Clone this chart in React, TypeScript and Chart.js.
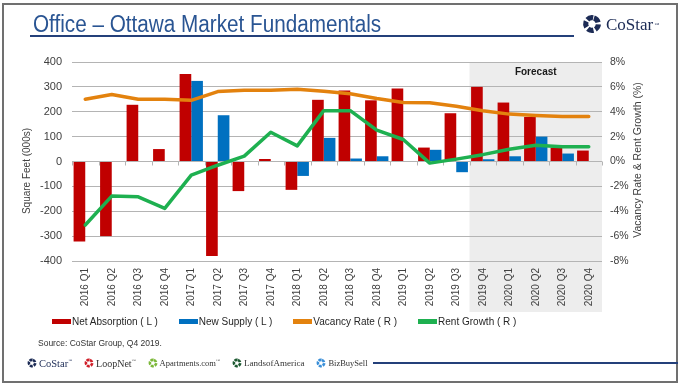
import React, { useEffect, useRef } from 'react';
import { Chart, registerables } from 'chart.js';

Chart.register(...registerables);

// ---------- data ----------
const categories = [
  '2016 Q1', '2016 Q2', '2016 Q3', '2016 Q4',
  '2017 Q1', '2017 Q2', '2017 Q3', '2017 Q4',
  '2018 Q1', '2018 Q2', '2018 Q3', '2018 Q4',
  '2019 Q1', '2019 Q2', '2019 Q3', '2019 Q4',
  '2020 Q1', '2020 Q2', '2020 Q3', '2020 Q4',
];
const netAbsorption = [-322, -300, 228, 50, 352, -380, -119, 10, -114, 248, 285, 246, 293, 56, 194, 300, 237, 179, 56, 44];
const newSupply = [null, null, null, null, 324, 186, null, null, -58, 95, 12, 21, null, 47, -43, 9, 21, 100, 32, null];
const vacancyRate = [5.0, 5.38, 5.0, 5.0, 4.92, 5.62, 5.73, 5.73, 5.8, 5.65, 5.45, 5.06, 4.74, 4.72, 4.44, 4.08, 3.81, 3.69, 3.61, 3.61];
const rentGrowth = [-5.11, -2.78, -2.84, -3.77, -1.1, -0.3, 0.43, 2.35, 1.26, 4.09, 4.09, 2.52, 1.77, -0.13, 0.19, 0.55, 0.98, 1.31, 1.18, 1.18];

const seriesNames = ['Net Absorption ( L )', 'New Supply ( L )', 'Vacancy Rate ( R )', 'Rent Growth ( R )'];
const seriesColors = ['#C00000', '#0070C0', '#E3820E', '#1EB050'];

const leftAxis = { min: -400, max: 400, step: 100 };
const rightAxis = { min: -8, max: 8, step: 2 };
const forecastStartIndex = 15;
const forecastLabel = 'Forecast';

const titleText = 'Office – Ottawa Market Fundamentals';
const leftAxisTitle = 'Square Feet (000s)';
const rightAxisTitle = 'Vacancy Rate & Rent Growth (%)';
const sourceText = 'Source: CoStar Group, Q4 2019.';
const footerBrands = [
  { name: 'CoStar', color: '#1C2B55', text: '#1C2B55', size: 10.5, tm: true },
  { name: 'LoopNet', color: '#D0202A', text: '#333333', size: 10, tm: true },
  { name: 'Apartments.com', color: '#7CB83A', text: '#333333', size: 8.5, tm: true },
  { name: 'LandsofAmerica', color: '#1E5A32', text: '#333333', size: 9, tm: false },
  { name: 'BizBuySell', color: '#3A8FD8', text: '#333333', size: 8.5, tm: false },
];

const SANS = '"Liberation Sans", Arial, sans-serif';
const SERIF = '"Liberation Serif", "Times New Roman", serif';
const GRID = '#B4B4B4';
const TICK = '#404040';

const Mark = ({ size, color }: { size: number; color: string }) => (
  <svg width={size} height={size} viewBox="0 0 20 20" style={{ display: 'block' }}>
    <circle cx="10" cy="10" r="6.3" fill="none" stroke={color} strokeWidth="5.2"
      strokeDasharray="6.0 1.92" transform="rotate(-72 10 10)" />
  </svg>
);

const forecastPlugin = {
  id: 'forecastShade',
  beforeDraw(chart: any) {
    const { ctx, chartArea, scales } = chart;
    const x = scales.x;
    const band = x.getPixelForValue(1) - x.getPixelForValue(0);
    const x0 = x.getPixelForValue(forecastStartIndex) - band / 2;
    ctx.save();
    ctx.fillStyle = '#EDEDED';
    ctx.fillRect(x0, chartArea.top, chartArea.right - x0, x.bottom - chartArea.top);
    ctx.fillStyle = '#1A1A1A';
    ctx.font = `bold 10px ${SANS}`;
    ctx.textAlign = 'center';
    ctx.textBaseline = 'middle';
    ctx.fillText(forecastLabel, (x0 + chartArea.right) / 2, chartArea.top + 10);
    ctx.restore();
  },
  beforeDatasetsDraw(chart: any) {
    const { ctx, scales } = chart;
    const x = scales.x;
    const y0 = scales.y.getPixelForValue(0);
    const band = x.getPixelForValue(1) - x.getPixelForValue(0);
    ctx.save();
    ctx.strokeStyle = GRID;
    ctx.lineWidth = 1;
    ctx.beginPath();
    for (let i = 0; i <= categories.length; i++) {
      const xb = Math.round(x.getPixelForValue(0) - band / 2 + i * band) + 0.5;
      ctx.moveTo(xb, y0);
      ctx.lineTo(xb, y0 + 4);
    }
    ctx.stroke();
    ctx.restore();
  },
};

function ChartCanvas() {
  const ref = useRef<HTMLCanvasElement | null>(null);
  useEffect(() => {
    if (!ref.current) return;
    const chart = new Chart(ref.current, {
      type: 'bar',
      data: {
        labels: categories,
        datasets: [
          {
            type: 'line', label: seriesNames[2], data: vacancyRate, yAxisID: 'y1',
            borderColor: seriesColors[2], backgroundColor: seriesColors[2], borderWidth: 3.5,
            pointRadius: 0, tension: 0, order: 0, borderCapStyle: 'round', borderJoinStyle: 'round',
          } as any,
          {
            type: 'line', label: seriesNames[3], data: rentGrowth, yAxisID: 'y1',
            borderColor: seriesColors[3], backgroundColor: seriesColors[3], borderWidth: 3.5,
            pointRadius: 0, tension: 0, order: 1, borderCapStyle: 'round', borderJoinStyle: 'round',
          } as any,
          {
            type: 'bar', label: seriesNames[0], data: netAbsorption, yAxisID: 'y',
            backgroundColor: seriesColors[0], order: 2,
            categoryPercentage: 0.88, barPercentage: 1.0,
          } as any,
          {
            type: 'bar', label: seriesNames[1], data: newSupply, yAxisID: 'y',
            backgroundColor: seriesColors[1], order: 3,
            categoryPercentage: 0.88, barPercentage: 1.0,
          } as any,
        ],
      },
      options: {
        responsive: false,
        animation: false,
        devicePixelRatio: 1,
        layout: { padding: { top: 62, bottom: 77, left: 0, right: 0 } },
        plugins: { legend: { display: false }, tooltip: { enabled: false } },
        scales: {
          x: {
            grid: { display: false, drawTicks: false },
            border: { display: false },
            ticks: {
              autoSkip: false, maxRotation: 90, minRotation: 90, padding: 7,
              color: TICK, font: { size: 10, family: SANS },
            },
            afterFit: (s: any) => { s.height = 51; },
          },
          y: {
            position: 'left', min: leftAxis.min, max: leftAxis.max,
            grid: { color: GRID, drawTicks: false, lineWidth: 1 },
            border: { display: false },
            ticks: { stepSize: leftAxis.step, padding: 10, color: TICK, font: { size: 11, family: SANS } },
            afterFit: (s: any) => { s.width = 72; },
          },
          y1: {
            position: 'right', min: rightAxis.min, max: rightAxis.max,
            grid: { display: false, drawTicks: false },
            border: { display: false },
            ticks: {
              stepSize: rightAxis.step, padding: 8, color: TICK, font: { size: 10.5, family: SANS },
              callback: (v: any) => `${v}%`,
            },
            afterFit: (s: any) => { s.width = 80; },
          },
        },
      } as any,
      plugins: [forecastPlugin],
    });
    return () => chart.destroy();
  }, []);
  return (
    <canvas ref={ref} width={682} height={389}
      style={{ position: 'absolute', left: 0, top: 0, width: 682, height: 389 }} />
  );
}

export default function App() {
  const abs = (s: React.CSSProperties): React.CSSProperties => ({ position: 'absolute', ...s });
  return (
    <div style={abs({ left: 0, top: 0, width: 682, height: 389, background: '#fff', overflow: 'hidden', fontFamily: SANS })}>
      <ChartCanvas />
      {/* frame */}
      <div style={abs({ left: 2, top: 3, width: 676, height: 380, border: '2px solid #707070', boxSizing: 'border-box' })} />
      {/* title */}
      <div style={abs({ left: 33, top: 13, fontSize: 23, lineHeight: '23px', color: '#2A5593', whiteSpace: 'nowrap', transform: 'scaleX(0.9)', transformOrigin: 'left top' })}>
        {titleText}
      </div>
      <div style={abs({ left: 30, top: 35, width: 544, height: 2, background: '#24407A' })} />
      {/* header logo */}
      <div style={abs({ left: 582, top: 14 })}><Mark size={20} color="#1C2B55" /></div>
      <div style={abs({ left: 606, top: 15, fontFamily: SERIF, fontSize: 17, lineHeight: '20px', color: '#1C2B55', whiteSpace: 'nowrap' })}>
        CoStar<span style={{ fontSize: 5, verticalAlign: 'top', marginLeft: 1 }}>™</span>
      </div>
      {/* axis titles */}
      <div style={abs({ left: 26, top: 171, fontSize: 10, color: TICK, whiteSpace: 'nowrap', transform: 'translate(-50%, -50%) rotate(-90deg)' })}>
        {leftAxisTitle}
      </div>
      <div style={abs({ left: 637, top: 160, fontSize: 10.5, color: TICK, whiteSpace: 'nowrap', transform: 'translate(-50%, -50%) rotate(-90deg)' })}>
        {rightAxisTitle}
      </div>
      {/* legend */}
      <div style={abs({ left: 52, top: 314, height: 14, display: 'flex', alignItems: 'center', gap: 21, fontSize: 10, color: '#262626', whiteSpace: 'nowrap' })}>
        {seriesNames.map((n, i) => (
          <div key={n} style={{ display: 'flex', alignItems: 'center' }}>
            <div style={{ width: 19, height: 5, background: seriesColors[i], marginRight: 1 }} />
            <span>{n}</span>
          </div>
        ))}
      </div>
      {/* source */}
      <div style={abs({ left: 38, top: 337, fontSize: 8.5, lineHeight: '12px', color: '#333', whiteSpace: 'nowrap' })}>
        {sourceText}
      </div>
      {/* footer brands */}
      <div style={abs({ left: 27, top: 356, height: 14, display: 'flex', alignItems: 'center', gap: 12, whiteSpace: 'nowrap' })}>
        {footerBrands.map((b) => (
          <div key={b.name} style={{ display: 'flex', alignItems: 'center' }}>
            <Mark size={10} color={b.color} />
            <span style={{ fontFamily: SERIF, fontSize: b.size, color: b.text, marginLeft: 2 }}>
              {b.name}{b.tm ? <span style={{ fontSize: 4, verticalAlign: 'top' }}>™</span> : null}
            </span>
          </div>
        ))}
      </div>
      <div style={abs({ left: 373, top: 362, width: 305, height: 2, background: '#24407A' })} />
    </div>
  );
}
